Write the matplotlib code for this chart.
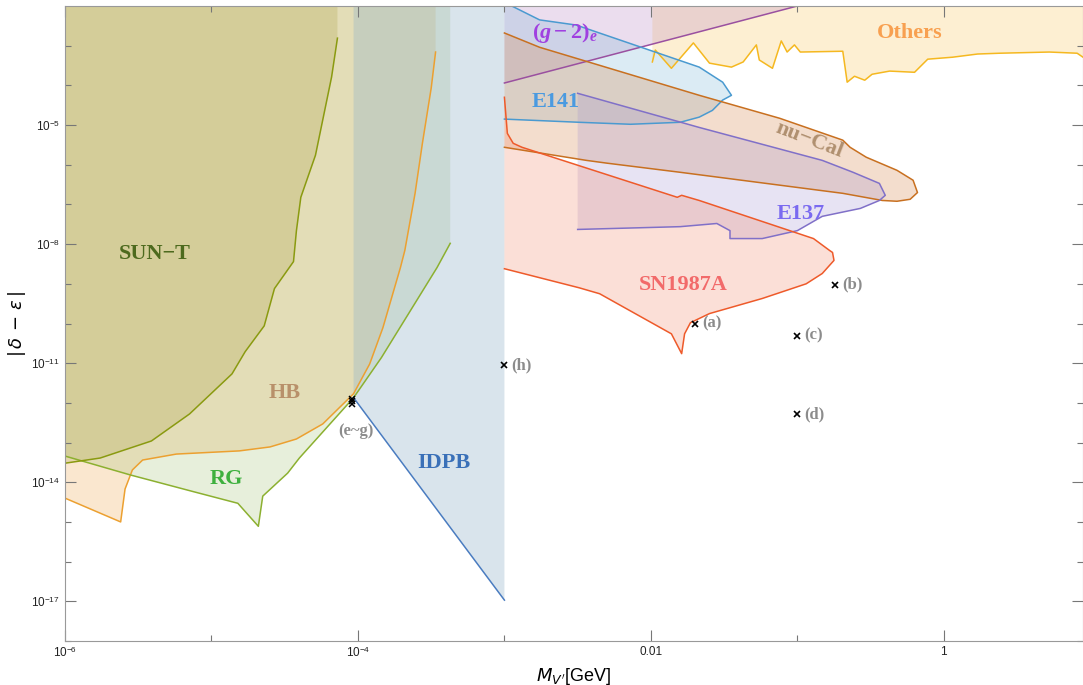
import numpy as np
import matplotlib.pyplot as plt

plt.rcParams['font.family'] = ['Liberation Sans', 'DejaVu Sans']
plt.rcParams['mathtext.fontset'] = 'custom'
plt.rcParams['mathtext.rm'] = 'Liberation Sans'
plt.rcParams['mathtext.it'] = 'Liberation Serif:italic:bold'
plt.rcParams['mathtext.bf'] = 'Liberation Serif:bold'

# boundaries, all as log10(M [GeV]) and log10(|delta - eps|)
sun_m = [-4.14, -4.14, -4.18, -4.29, -4.39, -4.42, -4.44, -4.57, -4.64, -4.77, -4.86, -5.15, -5.41, -5.76, -6.0]
sun_c = [-2.0, -2.81, -3.79, -5.76, -6.82, -7.66, -8.44, -9.12, -10.06, -10.71, -11.27, -12.28, -12.96, -13.39, -13.52]

hb_m = [-3.47, -3.50, -3.56, -3.61, -3.68, -3.71, -3.83, -3.92, -4.03, -4.24, -4.42, -4.60, -4.81, -5.24, -5.47, -5.54, -5.59, -5.62, -6.0]
hb_c = [-3.16, -4.07, -5.46, -6.72, -8.16, -8.59, -10.11, -11.02, -11.77, -12.53, -12.91, -13.11, -13.21, -13.29, -13.44, -13.69, -14.17, -15.0, -14.40]

rg_m = [-3.37, -3.37, -3.46, -3.84, -4.03, -4.40, -4.48, -4.65, -4.68, -4.82, -5.11, -5.55, -6.0]
rg_c = [-2.0, -7.98, -8.59, -10.86, -11.87, -13.39, -13.77, -14.35, -15.11, -14.53, -14.25, -13.82, -13.34]

idpb_m = [-4.03, -3.0]
idpb_c = [-11.87, -16.97]

sn_m = [-3.0, -2.98, -2.94, -2.88, -1.82, -1.79, -1.67, -0.89, -0.78, -0.76, -0.75, -0.83, -0.94, -1.24,
        -1.60, -1.73, -1.77, -1.79, -1.86, -2.35, -2.49, -3.0]
sn_c = [-4.30, -5.21, -5.46, -5.56, -6.82, -6.77, -6.90, -7.86, -8.16, -8.21, -8.41, -8.74, -9.00, -9.37,
        -9.75, -9.98, -10.26, -10.76, -10.26, -9.25, -9.10, -8.62]

nucal_m = [-3.0, -2.76, -1.67, -1.12, -0.69, -0.64, -0.53, -0.32, -0.21, -0.18, -0.23, -0.32, -0.42, -0.69,
           -1.80, -2.30, -2.44, -3.0]
nucal_c = [-2.68, -3.04, -4.25, -4.83, -5.38, -5.56, -5.81, -6.14, -6.39, -6.70, -6.87, -6.92, -6.90, -6.72,
           -6.19, -5.96, -5.89, -5.56]

e141_m = [-2.95, -2.76, -2.51, -1.67, -1.51, -1.45, -1.51, -1.58, -1.67, -1.80, -2.14, -2.49, -3.0]
e141_c = [-2.0, -2.35, -2.48, -3.54, -3.92, -4.25, -4.37, -4.63, -4.80, -4.93, -4.98, -4.93, -4.85]

e137_m = [-2.50, -1.67, -0.83, -0.62, -0.44, -0.40, -0.44, -0.57, -0.83, -1.00, -1.24, -1.46, -1.46, -1.55, -1.80, -2.50]
e137_c = [-4.20, -5.06, -5.89, -6.19, -6.47, -6.77, -6.90, -7.10, -7.30, -7.66, -7.86, -7.86, -7.66, -7.48, -7.56, -7.63]

g2_m = [-3.0, -1.0]
g2_c = [-3.94, -2.0]

oth_m = [-1.99, -1.97, -1.86, -1.71, -1.60, -1.45, -1.37, -1.28, -1.26, -1.17, -1.11, -1.07, -1.02, -0.98,
         -0.69, -0.66, -0.61, -0.54, -0.49, -0.37, -0.20, -0.11, 0.06, 0.23, 0.38, 0.72, 0.91, 0.95]
oth_c = [-3.41, -3.11, -3.57, -2.93, -3.44, -3.54, -3.41, -2.98, -3.36, -3.57, -2.88, -3.16, -2.98, -3.16,
         -3.14, -3.92, -3.77, -3.87, -3.72, -3.64, -3.67, -3.34, -3.29, -3.21, -3.19, -3.16, -3.19, -3.29]

# benchmark points
pt_names = ['(a)', '(b)', '(c)', '(d)', '(h)']
pt_m = [0.02, 0.18, 0.1, 0.1, 1e-3]
pt_c = [1.0e-10, 9.5e-10, 4.9e-11, 5.2e-13, 9.0e-12]
eg_m = [9.1e-5, 9.1e-5, 9.1e-5]
eg_c = [1.25e-12, 1.1e-12, 0.95e-12]

X_MIN, X_MAX = 1e-6, 10**0.95
Y_MIN, Y_MAX = 1e-18, 1e-2


def p(v):
    return 10.0 ** np.asarray(v, dtype=float)


fig = plt.figure(figsize=(10.83, 6.85), dpi=100)
ax = fig.add_axes([65 / 1083, 44 / 685, 1018 / 1083, 635 / 685])
ax.set_xscale('log')
ax.set_yscale('log')

top = np.log10(Y_MAX)
left = np.log10(X_MIN)

# HB
ax.fill(p([hb_m[0]] + hb_m + [left]), p([top] + hb_c + [top]), color='#f0b060', alpha=0.3, lw=0)
ax.plot(p(hb_m), p(hb_c), color='#eca030', lw=1.1)
# RG
ax.fill(p(rg_m + [left]), p(rg_c + [top]), color='#a0c070', alpha=0.25, lw=0)
ax.plot(p(rg_m[1:]), p(rg_c[1:]), color='#8cb030', lw=1.1)
# SUN-T
ax.fill(p(sun_m + [left]), p(sun_c + [top]), color='#a8a040', alpha=0.25, lw=0)
ax.plot(p(sun_m[1:]), p(sun_c[1:]), color='#8a9a10', lw=1.1)
# IDPB
ax.fill(p(idpb_m + [idpb_m[1], idpb_m[0]]), p(idpb_c + [top, top]), color='#92b2c9', alpha=0.35, lw=0)
ax.plot(p(idpb_m), p(idpb_c), color='#4a7cc0', lw=1.1)
# Others
ax.fill(p([oth_m[0]] + oth_m + [oth_m[-1]]), p([top] + oth_c + [top]), color='#f8c860', alpha=0.28, lw=0)
ax.plot(p(oth_m), p(oth_c), color='#f5b820', lw=1.1)
# (g-2)_e
ax.fill(p(g2_m + [g2_m[0]]), p(g2_c + [top]), color='#c090c8', alpha=0.3, lw=0)
ax.plot(p(g2_m), p(g2_c), color='#9a50a0', lw=1.1)
# E141
ax.fill(p([e141_m[-1]] + e141_m), p([top] + e141_c), color='#80b8d8', alpha=0.28, lw=0)
ax.plot(p(e141_m), p(e141_c), color='#4a9ad0', lw=1.1)
# nu-Cal
ax.fill(p(nucal_m), p(nucal_c), color='#d8905a', alpha=0.3, lw=0)
ax.plot(p(nucal_m), p(nucal_c), color='#c87020', lw=1.1)
# E137
ax.fill(p(e137_m), p(e137_c), color='#a090d0', alpha=0.25, lw=0)
ax.plot(p(e137_m), p(e137_c), color='#8070c8', lw=1.1)
# SN1987A
ax.fill(p(sn_m), p(sn_c), color='#f08060', alpha=0.25, lw=0)
ax.plot(p(sn_m), p(sn_c), color='#ee5a2a', lw=1.1)

# points
ax.plot(pt_m, pt_c, 'x', color='k', ms=4.5, mew=1.2)
ax.plot(eg_m, eg_c, 'x', color='k', ms=4.0, mew=1.1)
for n, m, c in zip(pt_names, pt_m, pt_c):
    ax.annotate(n, (m, c), xytext=(7, 0), textcoords='offset pixels', ha='left', va='center',
                fontsize=12, fontweight='bold', family='Liberation Serif', color='#8c8c8c')
ax.annotate('(e~g)', (eg_m[0], eg_c[1]), xytext=(4, -30), textcoords='offset pixels', ha='center',
            va='center', fontsize=12, fontweight='bold', family='Liberation Serif', color='#8c8c8c')

# region labels
lab = dict(fontsize=16, fontweight='bold', family='Liberation Serif', ha='center', va='center')
ax.text(10**-5.39, 10**-8.24, 'SUN\u2212T', color='#4d6a1e', **lab)
ax.text(10**-4.50, 10**-11.75, 'HB', color='#b8906a', **lab)
ax.text(10**-4.90, 10**-13.92, 'RG', color='#3eb03e', **lab)
ax.text(10**-3.41, 10**-13.52, 'IDPB', color='#3a70b8', **lab)
ax.text(10**-1.78, 10**-9.02, 'SN1987A', color='#f26a6a', **lab)
ax.text(10**-2.65, 10**-4.42, 'E141', color='#4a9ae0', **lab)
ax.text(10**-0.98, 10**-7.25, 'E137', color='#7a6af0', **lab)
ax.text(10**-0.92, 10**-5.38, 'nu\u2212Cal', color='#b09070', rotation=-21, **lab)
ax.text(10**-2.59, 10**-2.68, r'$\mathbf{(}g - \mathbf{2)}_{e}$', color='#a040e0', **lab)
ax.text(10**-0.23, 10**-2.68, 'Others', color='#f8a050', **lab)

ax.set_xlim(X_MIN, X_MAX)
ax.set_ylim(Y_MIN, Y_MAX)

ax.set_xticks([1e-6, 1e-4, 1e-2, 1])
ax.set_xticklabels([r'$10^{-6}$', r'$10^{-4}$', '0.01', '1'])
ax.set_xticks([1e-5, 1e-3, 0.1], minor=True)
ax.xaxis.set_minor_formatter(plt.NullFormatter())
ax.set_yticks([1e-17, 1e-14, 1e-11, 1e-8, 1e-5])
ax.set_yticklabels([r'$10^{-17}$', r'$10^{-14}$', r'$10^{-11}$', r'$10^{-8}$', r'$10^{-5}$'])
ax.set_yticks([10.0**k for k in range(-18, -1) if k % 3 != 1], minor=True)
ax.yaxis.set_minor_formatter(plt.NullFormatter())
ax.tick_params(which='both', direction='in', top=True, right=True, color='#777777', width=0.8,
               labelsize=8.5, labelcolor='#222222')
ax.tick_params(which='major', length=8)
ax.tick_params(which='minor', length=4)
for s in ax.spines.values():
    s.set_color('#999999')

xl = ax.set_xlabel(r"$M_{V'}$[GeV]", fontsize=13, labelpad=4)
xl.set_math_fontfamily('dejavusans')
yl = ax.set_ylabel(r'$|\,\delta\,-\,\epsilon\,|$', fontsize=13, labelpad=2)
yl.set_math_fontfamily('dejavusans')

fig.savefig('out.png', dpi=100)
